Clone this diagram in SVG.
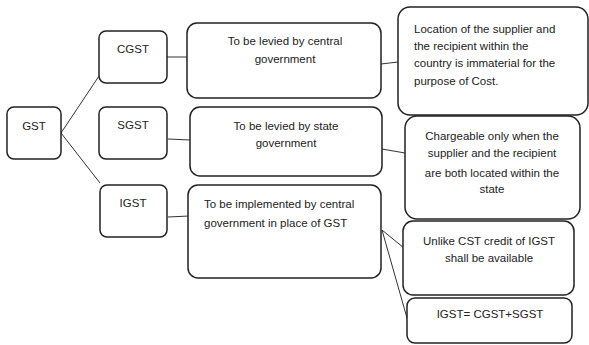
<svg xmlns="http://www.w3.org/2000/svg" width="589" height="345" viewBox="0 0 589 345">
<style>
.box{fill:#fff;stroke:#222;stroke-width:1.5}
.ln{stroke:#333;stroke-width:1;fill:none}
text{font-family:"Liberation Sans",Arial,sans-serif;font-size:11.5px;fill:#222}
.c{text-anchor:middle}
</style>
<rect width="589" height="345" fill="#fff"/>
<g id="connectors">
<line class="ln" x1="61" y1="133" x2="99" y2="76"/>
<line class="ln" x1="61" y1="133" x2="100" y2="183"/>
<line class="ln" x1="167" y1="57" x2="188" y2="57"/>
<line class="ln" x1="168" y1="139" x2="190" y2="140"/>
<line class="ln" x1="168" y1="217" x2="189" y2="216"/>
<line class="ln" x1="381" y1="64" x2="398" y2="62"/>
<line class="ln" x1="382" y1="149" x2="405" y2="153"/>
<line class="ln" x1="382" y1="230" x2="404" y2="248"/>
<line class="ln" x1="382" y1="230" x2="407" y2="318"/>
</g>
<g id="gst"><rect class="box" x="7" y="107" width="54" height="52" rx="7"/><text class="c" x="34" y="130">GST</text></g>
<g id="cgst"><rect class="box" x="99" y="31" width="68" height="52" rx="7"/><text class="c" x="133" y="53">CGST</text></g>
<g id="sgst"><rect class="box" x="99" y="107" width="68" height="52" rx="7"/><text class="c" x="133" y="129">SGST</text></g>
<g id="igst"><rect class="box" x="100" y="185" width="67" height="52" rx="7"/><text class="c" x="133" y="207">IGST</text></g>
<g id="cgst-desc"><rect class="box" x="187" y="23" width="194" height="75" rx="10"/><text class="c" x="285" y="45">To be levied by central</text><text class="c" x="285" y="63">government</text></g>
<g id="sgst-desc"><rect class="box" x="190" y="107" width="192" height="69" rx="10"/><text class="c" x="286" y="130">To be levied by state</text><text class="c" x="286" y="147">government</text></g>
<g id="igst-desc"><rect class="box" x="188" y="185" width="193" height="93" rx="10"/><text x="204" y="208">To be implemented by central</text><text x="204" y="227">government in place of GST</text></g>
<g id="cgst-note"><rect class="box" x="398" y="7" width="190" height="108" rx="12"/><text x="414" y="33">Location of the supplier and</text><text x="414" y="50">the recipient within the</text><text x="414" y="67">country is immaterial for the</text><text x="414" y="85">purpose of Cost.</text></g>
<g id="sgst-note"><rect class="box" x="405" y="116" width="175" height="103" rx="12"/><text class="c" x="492" y="140">Chargeable only when the</text><text class="c" x="492" y="157">supplier and the recipient</text><text class="c" x="492" y="177">are both located within the</text><text class="c" x="492" y="193">state</text></g>
<g id="igst-note1"><rect class="box" x="403" y="221" width="171" height="74" rx="10"/><text class="c" x="489" y="245">Unlike CST credit of IGST</text><text class="c" x="489" y="262">shall be available</text></g>
<g id="igst-note2"><rect class="box" x="407" y="298" width="165" height="45" rx="8"/><text class="c" x="490" y="318">IGST= CGST+SGST</text></g>
</svg>
